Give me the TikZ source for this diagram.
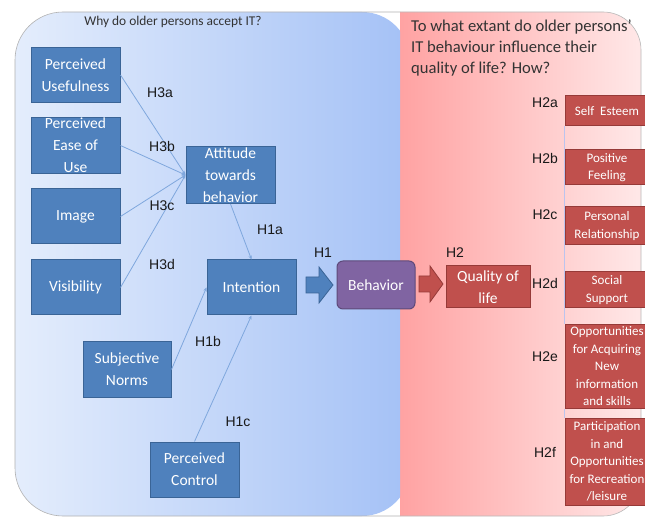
\documentclass[tikz,border=0pt]{standalone}
\usepackage{fontspec}
\setmainfont{Carlito}
\newfontfamily\arialf{Liberation Sans}
\usetikzlibrary{arrows.meta}
\definecolor{bfill}{HTML}{4F81BD}
\definecolor{bborder}{HTML}{3A6496}
\definecolor{rfill}{HTML}{C0504D}
\definecolor{rborder}{HTML}{963A38}
\definecolor{pfill}{HTML}{8064A2}
\definecolor{pborder}{HTML}{5E4A7A}
\definecolor{connc}{HTML}{7FA7DD}
\definecolor{blueL}{HTML}{E4EDFC}
\definecolor{blueR}{HTML}{A4C1F6}
\definecolor{redL}{HTML}{FF9494}
\definecolor{redR}{HTML}{FFE8E8}
\definecolor{vline}{HTML}{BCC4EE}
\begin{document}
\begin{tikzpicture}[x=1pt,y=-1pt,
  bbox/.style={draw=bborder, fill=bfill, text=white, line width=1pt, minimum width=89pt, minimum height=55pt, inner sep=1pt, align=center, font=\fontsize{15.5}{22}\selectfont},
  rbox/.style={draw=rborder, fill=rfill, text=white, line width=1pt, minimum width=84pt, inner sep=0pt, align=center, font=\fontsize{13}{17.5}\selectfont},
  conn/.style={draw=connc, line width=0.8pt, -{Stealth[length=4pt,width=3.5pt]}},
  hlab/.style={font=\arialf\fontsize{14}{16}\selectfont, text=black!90, inner sep=0pt},
  ttl/.style={font=\fontsize{15}{21}\selectfont, text=black!80, inner sep=0pt},
  blockb/.style={draw=bborder, fill=bfill, line width=0.8pt, line join=miter},
  blockr/.style={draw=rborder, fill=rfill, line width=0.8pt, line join=miter}
]
\useasboundingbox (0,0) rectangle (645,518);
\fill[white] (0,0) rectangle (645,518);
% panels
\begin{scope}
  \clip (400,0) rectangle (645,518);
  \shade[left color=redL, right color=redR, rounded corners=38pt] (350,12) rectangle (641,516);
  \draw[gray!55, line width=0.6pt, rounded corners=38pt] (350,12) rectangle (641,516);
\end{scope}
\begin{scope}
  \clip (0,0) rectangle (400,518);
  \shade[left color=blueL, right color=blueR, rounded corners=48pt] (15,12) rectangle (410,516);
  \draw[gray!60, line width=0.6pt, rounded corners=48pt] (15,12) rectangle (460,516);
\end{scope}
% titles
\node[ttl, font=\fontsize{13.4}{21}\selectfont] (t1) at (173,22) {Why do older persons accept IT?};
\node[ttl, anchor=north west, align=left, font=\fontsize{16.6}{21}\selectfont] (t2) at (411,20) {To what extant do older persons'\\IT behaviour influence their\\quality of life? How?};
% left nodes
\node[bbox] (pu)  at (75.5,75)   {Perceived\\Usefulness};
\node[bbox] (peu) at (75.5,145.5) {Perceived\\Ease of\\Use};
\node[bbox] (img) at (75.5,216.5) {Image};
\node[bbox] (vis) at (75.5,287.5) {Visibility};
\node[bbox, minimum height=54pt] (att) at (230.5,175) {Attitude\\towards\\behavior};
\node[bbox] (int) at (251.5,287.5) {Intention};
\node[bbox, minimum width=88pt] (sn) at (127,369.5) {Subjective\\Norms};
\node[bbox] (pc) at (194.5,469.5) {Perceived\\Control};
\node[draw=pborder, fill=pfill, text=white, line width=1pt, rounded corners=6pt, minimum width=78pt, minimum height=48pt, font=\fontsize{15.5}{22}\selectfont] (beh) at (376,285) {Behavior};
\node[draw=rborder, fill=rfill, text=white, line width=1pt, minimum width=84pt, minimum height=42pt, inner sep=0pt, align=center, font=\fontsize{15.5}{22}\selectfont] (qol) at (488,287) {Quality of\\life};
% block arrows
\coordinate (a1) at (306,285);
\coordinate (a2) at (419,284);
\path[blockb, shift={(a1)}] (0,-8) -- (13,-8) -- (13,-18) -- (27,0) -- (13,18) -- (13,8) -- (0,8) -- cycle;
\path[blockr, shift={(a2)}] (0,-8) -- (11,-8) -- (11,-18) -- (24,0) -- (11,18) -- (11,8) -- (0,8) -- cycle;
% right nodes
\node[rbox, minimum height=30pt] (se)  at (607,111)   {Self\ \ Esteem};
\node[rbox, minimum height=35pt] (pf)  at (607,167.5) {Positive\\Feeling};
\node[rbox, minimum height=38pt] (pr)  at (607,226)   {Personal\\Relationship};
\node[rbox, minimum height=36pt] (ss)  at (607,290)   {Social\\Support};
\node[rbox, minimum height=83pt] (opp) at (607,366.5) {Opportunities\\for Acquiring\\New\\information\\and skills};
\node[rbox, minimum height=87pt] (par) at (607,461.5) {Participation\\in and\\Opportunities\\for Recreation\\/leisure};
\draw[vline, line width=1pt] (se.south west) -- (opp.north west);
\draw[vline, line width=1pt] (opp.south west) -- (par.north west);
% connectors
\draw[conn] (pu.east) -- (att.west);
\draw[conn] (peu.east) -- (att.west);
\draw[conn] (img.east) -- (att.west);
\draw[conn] (vis.east) -- (att.west);
\draw[conn] (att.south) -- (int.north);
\draw[conn] (sn.east) -- (int.west);
\draw[conn] (pc.north) -- (int.south);
% labels
\node[hlab] (l3a) at (160,93) {H3a};
\node[hlab] (l3b) at (162,146) {H3b};
\node[hlab] (l3c) at (162,206) {H3c};
\node[hlab] (l3d) at (162,264) {H3d};
\node[hlab] (l1a) at (270,230) {H1a};
\node[hlab] (l1)  at (323,253) {H1};
\node[hlab] (l1b) at (208,341) {H1b};
\node[hlab] (l1c) at (238,422) {H1c};
\node[hlab] (l2)  at (455,253) {H2};
\node[hlab] (l2a) at (545,103) {H2a};
\node[hlab] (l2b) at (545,158) {H2b};
\node[hlab] (l2c) at (545,215) {H2c};
\node[hlab] (l2d) at (545,283) {H2d};
\node[hlab] (l2e) at (545,357) {H2e};
\node[hlab] (l2f) at (545,452) {H2f};
\end{tikzpicture}
\end{document}
